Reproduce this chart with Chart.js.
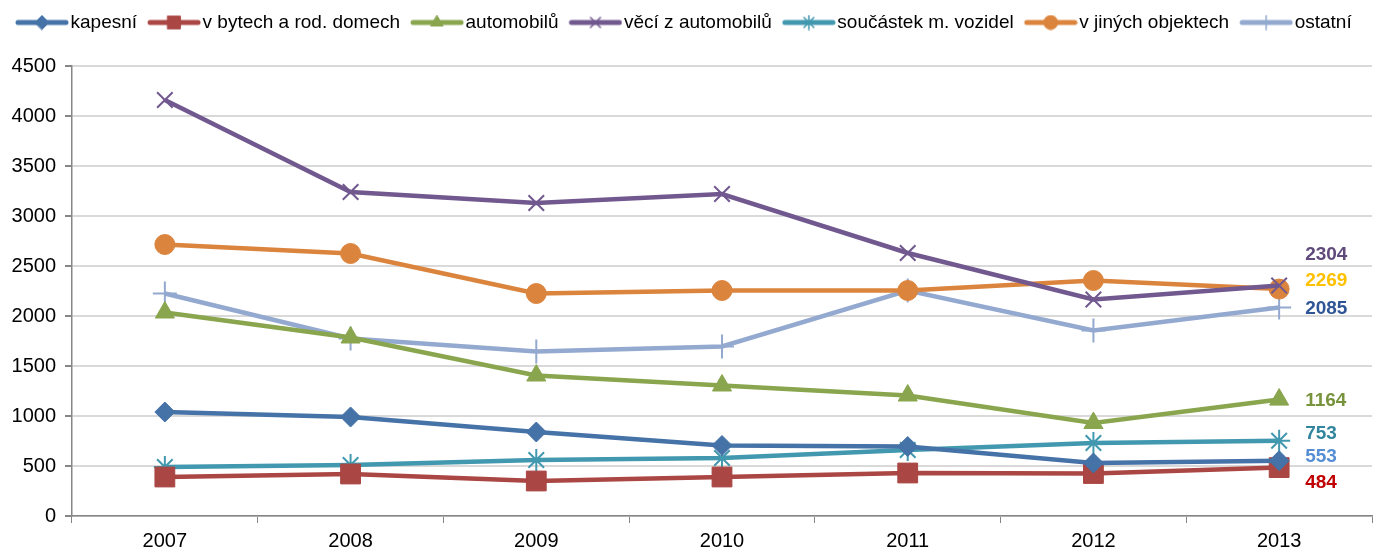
<!DOCTYPE html>
<html>
<head>
<meta charset="utf-8">
<script src="https://cdn.jsdelivr.net/npm/chart.js@4.4.1/dist/chart.umd.min.js"></script>
<style>
  html, body { margin: 0; padding: 0; background: #fff; }
  #wrap { width: 1381px; height: 551px; }
</style>
</head>
<body>
<div id="wrap"><canvas id="chart" width="1381" height="551"></canvas></div>
<script>
const years = ["2007", "2008", "2009", "2010", "2011", "2012", "2013"];

const kapesni = [1040, 990, 840, 705, 695, 530, 553];
const vBytech = [390, 420, 350, 390, 430, 425, 484];
const automobilu = [2035, 1785, 1405, 1305, 1205, 930, 1164];
const veciZAut = [4160, 3240, 3130, 3220, 2630, 2165, 2304];
const soucastek = [490, 510, 560, 580, 660, 730, 753];
const jineObjekty = [2715, 2625, 2225, 2255, 2255, 2355, 2269];
const ostatni = [2225, 1775, 1645, 1695, 2255, 1855, 2085];

const yTicks = { min: 0, max: 4500, step: 500 };

// last-value labels on the right: text colour and small vertical nudge
const endLabels = [
  { data: veciZAut, color: "#604A7B", dy: -31 },
  { data: jineObjekty, color: "#FFC000", dy: -8 },
  { data: ostatni, color: "#2F5597", dy: 1 },
  { data: automobilu, color: "#77933C", dy: 1 },
  { data: soucastek, color: "#31859C", dy: -7 },
  { data: kapesni, color: "#558ED5", dy: -4 },
  { data: vBytech, color: "#C00000", dy: 15 },
];

const font = "Liberation Sans";

function makeSeries(label, data, color, style, radius) {
  const thin = style === "crossRot" || style === "star" || style === "cross";
  return {
    label, data,
    borderColor: color,
    backgroundColor: color,
    borderWidth: 4.5,
    pointStyle: style,
    pointRadius: radius,
    pointHoverRadius: radius,
    pointBorderColor: color,
    pointBackgroundColor: color,
    pointBorderWidth: thin ? 2 : 1,
    tension: 0,
  };
}

const datasets = [
  makeSeries("kapesní", kapesni, "#4572A7", "rectRot", 10),
  makeSeries("v bytech a rod. domech", vBytech, "#AA4643", "rect", 14),
  makeSeries("automobilů", automobilu, "#89A54E", "triangle", 11),
  makeSeries("věcí z automobilů", veciZAut, "#71588F", "crossRot", 11),
  makeSeries("součástek m. vozidel", soucastek, "#4198AF", "star", 11),
  makeSeries("v jiných objektech", jineObjekty, "#DB843D", "circle", 10),
  makeSeries("ostatní", ostatni, "#93A9CF", "cross", 12),
];

// legend swatch: line with the marker in the middle (left part kept empty)
function legendIcon(ds) {
  const c = document.createElement("canvas");
  c.width = 62; c.height = 16;
  const ctx = c.getContext("2d");
  ctx.strokeStyle = ds.borderColor;
  ctx.fillStyle = ds.borderColor;
  ctx.lineWidth = 5;
  ctx.lineCap = "round";
  ctx.beginPath(); ctx.moveTo(11, 8); ctx.lineTo(59, 8); ctx.stroke();
  const thin = ["crossRot", "star", "cross"].includes(ds.pointStyle);
  ctx.lineWidth = thin ? 1.5 : 1;
  const r = ds.pointStyle === "rect" ? 9 : 7;
  Chart.helpers.drawPoint(ctx, { pointStyle: ds.pointStyle, radius: r, borderWidth: ctx.lineWidth, rotation: 0 }, 35, 8);
  return c;
}

const endLabelPlugin = {
  id: "endLabels",
  afterDatasetsDraw(chart) {
    const { ctx, scales } = chart;
    const x = scales.x.getPixelForValue(years.length - 1) + 26;
    ctx.save();
    ctx.font = "bold 19px '" + font + "'";
    ctx.textBaseline = "middle";
    ctx.textAlign = "left";
    endLabels.forEach((l) => {
      const v = l.data[l.data.length - 1];
      ctx.fillStyle = l.color;
      ctx.fillText(String(v), x, scales.y.getPixelForValue(v) + l.dy);
    });
    ctx.restore();
  },
};

// extra room under the legend
const legendGap = {
  id: "legendGap",
  beforeInit(chart) {
    const fit = chart.legend.fit;
    chart.legend.fit = function () {
      fit.call(this);
      this.height += 24;
    };
  },
};

const chart = new Chart(document.getElementById("chart"), {
  type: "line",
  data: { labels: years, datasets },
  plugins: [endLabelPlugin, legendGap],
  options: {
    responsive: false,
    animation: false,
    layout: { autoPadding: false, padding: { top: 3, right: 9, left: 5, bottom: 0 } },
    plugins: {
      tooltip: { enabled: false },
      legend: {
        position: "top",
        align: "start",
        labels: {
          usePointStyle: true,
          pointStyleWidth: 46,
          boxHeight: 16,
          padding: 10,
          color: "#000",
          font: { family: font, size: 19 },
          generateLabels(chart) {
            return chart.data.datasets.map((ds, i) => ({
              text: ds.label,
              pointStyle: legendIcon(ds),
              fillStyle: ds.borderColor,
              strokeStyle: ds.borderColor,
              lineWidth: 0,
              datasetIndex: i,
              fontColor: "#000",
            }));
          },
        },
      },
    },
    scales: {
      x: {
        offset: true,
        grid: { offset: true, drawOnChartArea: false, tickLength: 7, color: "#868686" },
        border: { color: "#868686", width: 1.5 },
        ticks: { color: "#000", font: { family: font, size: 20 }, padding: 6 },
        afterFit(scale) { scale.height = 35; },
      },
      y: {
        min: yTicks.min,
        max: yTicks.max,
        ticks: {
          stepSize: yTicks.step, color: "#000", font: { family: font, size: 20 }, padding: 9,
          callback: (v) => String(v),
        },
        grid: { color: "#D9D9D9", lineWidth: 2, tickLength: 7, tickColor: "#868686" },
        border: { color: "#868686", width: 1.5 },
        afterFit(scale) { scale.width = 67; },
      },
    },
  },
});
</script>
</body>
</html>
